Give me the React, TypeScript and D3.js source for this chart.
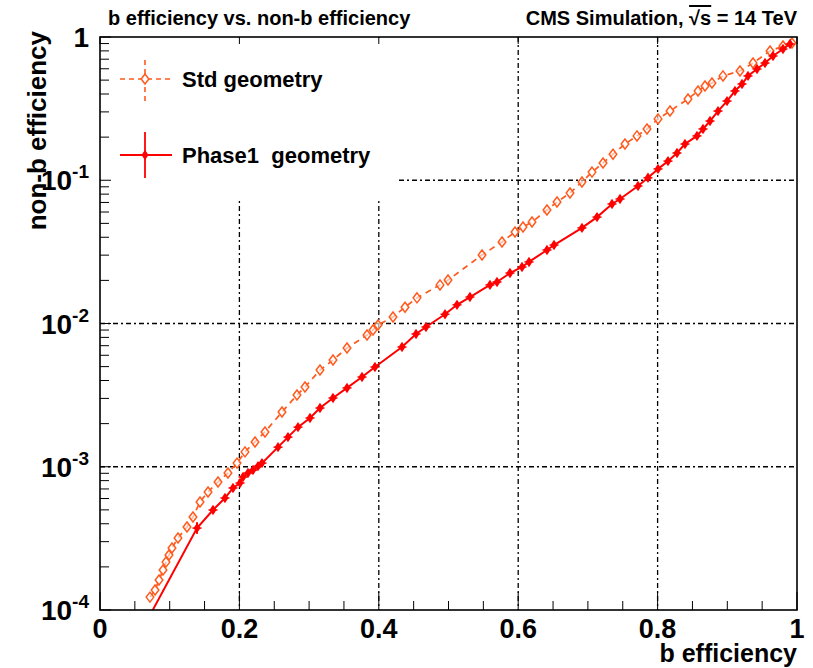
import React from 'react';
import * as d3 from 'd3';

// Std geometry (orange, dashed, open markers)
const stdX = [0.0717, 0.079, 0.0847, 0.0904, 0.0947, 0.099, 0.1033, 0.1119, 0.1248, 0.1334, 0.1435, 0.155, 0.1693, 0.1836, 0.1966, 0.208, 0.2224, 0.2367, 0.2611, 0.2826, 0.2941, 0.3156, 0.3343, 0.3544, 0.3831, 0.3917, 0.3989, 0.4204, 0.4376, 0.4548, 0.4878, 0.4993, 0.5481, 0.5768, 0.5954, 0.6069, 0.6198, 0.6413, 0.6557, 0.6743, 0.6915, 0.7059, 0.7217, 0.736, 0.7532, 0.7704, 0.7848, 0.8006, 0.8178, 0.8436, 0.858, 0.868, 0.878, 0.8938, 0.9182, 0.9369, 0.9613, 0.9799, 0.9928];
const stdY = [1.23e-4, 1.38e-4, 1.62e-4, 1.9e-4, 2.16e-4, 2.42e-4, 2.71e-4, 3.18e-4, 3.8e-4, 4.46e-4, 5.68e-4, 6.67e-4, 7.83e-4, 9.04e-4, 1.06e-3, 1.27e-3, 1.49e-3, 1.75e-3, 2.41e-3, 3.17e-3, 3.6e-3, 4.73e-3, 5.56e-3, 6.74e-3, 8.31e-3, 9.01e-3, 9.77e-3, 1.11e-2, 1.3e-2, 1.51e-2, 1.86e-2, 2.01e-2, 3.01e-2, 3.71e-2, 4.35e-2, 4.72e-2, 5.11e-2, 6.2e-2, 7.05e-2, 8.15e-2, 9.73e-2, 0.114, 0.132, 0.152, 0.179, 0.204, 0.228, 0.268, 0.304, 0.369, 0.42, 0.455, 0.478, 0.535, 0.579, 0.658, 0.798, 0.865, 0.908];

// Phase1 geometry (red, solid, filled markers); first point lies below the frame
const p1X = [0.0717, 0.1392, 0.1621, 0.1793, 0.1908, 0.2009, 0.2052, 0.2123, 0.2195, 0.2267, 0.2324, 0.2554, 0.2697, 0.2841, 0.3013, 0.3156, 0.3343, 0.3544, 0.3759, 0.3945, 0.4333, 0.4534, 0.4677, 0.495, 0.5122, 0.5308, 0.5595, 0.5696, 0.5882, 0.6055, 0.6155, 0.6413, 0.6514, 0.6915, 0.7131, 0.7346, 0.7461, 0.7719, 0.7862, 0.8006, 0.8149, 0.8278, 0.8393, 0.8565, 0.8651, 0.8752, 0.8867, 0.8996, 0.911, 0.9211, 0.9297, 0.9426, 0.9541, 0.9656, 0.9799, 0.99];
const p1Y = [9.2e-5, 3.73e-4, 4.99e-4, 6.05e-4, 7.11e-4, 7.7e-4, 8.48e-4, 9.04e-4, 9.49e-4, 1.01e-3, 1.06e-3, 1.37e-3, 1.61e-3, 1.89e-3, 2.19e-3, 2.57e-3, 3.02e-3, 3.55e-3, 4.23e-3, 4.97e-3, 6.85e-3, 8.45e-3, 9.46e-3, 1.16e-2, 1.35e-2, 1.53e-2, 1.86e-2, 1.95e-2, 2.25e-2, 2.48e-2, 2.69e-2, 3.26e-2, 3.53e-2, 4.65e-2, 5.53e-2, 6.83e-2, 7.4e-2, 9.12e-2, 0.104, 0.12, 0.136, 0.155, 0.179, 0.204, 0.228, 0.259, 0.304, 0.357, 0.42, 0.47, 0.535, 0.598, 0.658, 0.737, 0.824, 0.894];
// visible error bar on Phase1
const p1ErrX = [0.1392];
const p1ErrLo = [3.4e-4];
const p1ErrHi = [4.1e-4];

const xTicks = [0, 0.2, 0.4, 0.6, 0.8, 1];
const xTickLabels = ['0', '0.2', '0.4', '0.6', '0.8', '1'];
const yTicks = [1, 0.1, 0.01, 0.001, 0.0001];
const yTickBase = ['1', '10', '10', '10', '10'];
const yTickExp = ['', '-1', '-2', '-3', '-4'];
const xGrid = [0.2, 0.4, 0.6, 0.8];
const yGrid = [0.1, 0.01, 0.001];

const titleLeft = 'b efficiency vs. non-b efficiency';
const titleRight = 'CMS Simulation, ';
const xLabel = 'b efficiency';
const yLabel = 'non-b efficiency';
const legendStd = 'Std geometry';
const legendP1 = 'Phase1\u00a0\u00a0geometry';

const W = 813, H = 668;
const L = 100, R = 797, T = 37, B = 610;
const ORANGE = '#ff5a1e';
const RED = '#ff0000';
const FONT = '"Liberation Sans", Arial, Helvetica, sans-serif';

export default function App() {
  const x = d3.scaleLinear().domain([0, 1]).range([L, R]);
  const y = d3.scaleLog().domain([1e-4, 1]).range([B, T]);
  const line = d3.line<[number, number]>().x(d => x(d[0])).y(d => y(d[1]));
  const stdPts: [number, number][] = stdX.map((v, i) => [v, stdY[i]]);
  const p1Pts: [number, number][] = p1X.map((v, i) => [v, p1Y[i]]);

  const minorX = d3.range(0, 1.0001, 0.05).filter(v => Math.abs(v / 0.2 - Math.round(v / 0.2)) > 1e-6);
  const minorY: number[] = [];
  for (let e = -4; e < 0; e++) for (let m = 2; m <= 9; m++) minorY.push(m * Math.pow(10, e));

  const legX0 = 120, legX1 = 172, legMx = 145;
  const legStdY = 79, legP1Y = 155;

  const diamond = (cx: number, cy: number, w: number, h: number) =>
    `M${cx},${cy - h} L${cx + w},${cy} L${cx},${cy + h} L${cx - w},${cy} Z`;

  return (
    <svg width={W} height={H} style={{ position: 'absolute', left: 0, top: 0, background: '#fff' }} fontFamily={FONT}>
      <defs>
        <clipPath id="plotclip"><rect x={L} y={T} width={R - L} height={B - T} /></clipPath>
      </defs>
      <rect x={0} y={0} width={W} height={H} fill="#fff" />
      {/* grid */}
      <g stroke="#000" strokeWidth={1.3} strokeDasharray="5,3,2,3">
        {xGrid.map(v => <line key={'gx' + v} x1={x(v)} x2={x(v)} y1={T} y2={B} />)}
        {yGrid.map(v => <line key={'gy' + v} x1={L} x2={R} y1={y(v)} y2={y(v)} />)}
      </g>
      {/* legend box (covers grid) */}
      <rect x={L + 1} y={T + 1} width={297} height={160} fill="#fff" />
      {/* axis ticks */}
      <g stroke="#000" strokeWidth={1}>
        {xTicks.map(v => <line key={'xt' + v} x1={x(v)} x2={x(v)} y1={B} y2={B - 18} />)}
        {minorX.map(v => <line key={'xm' + v} x1={x(v)} x2={x(v)} y1={B} y2={B - 9} />)}
        {xTicks.map(v => <line key={'xtt' + v} x1={x(v)} x2={x(v)} y1={T} y2={T + 7} />)}
        {yTicks.map(v => <line key={'yt' + v} x1={L} x2={L + 11} y1={y(v)} y2={y(v)} />)}
        {minorY.map(v => <line key={'ym' + v} x1={L} x2={L + 9} y1={y(v)} y2={y(v)} />)}
      </g>
      {/* curves */}
      <g clipPath="url(#plotclip)">
        <path d={line(stdPts) || ''} fill="none" stroke={ORANGE} strokeWidth={1.7} strokeDasharray="6,5" />
        {stdPts.map((p, i) => (
          <path key={'sm' + i} d={diamond(x(p[0]), y(p[1]), 3.8, 5)} fill="#fff" fillOpacity={0.6} stroke={ORANGE} strokeWidth={1.5} />
        ))}
        <path d={line(p1Pts) || ''} fill="none" stroke={RED} strokeWidth={2} />
        {p1ErrX.map((v, i) => (
          <line key={'pe' + i} x1={x(v)} x2={x(v)} y1={y(p1ErrLo[i])} y2={y(p1ErrHi[i])} stroke={RED} strokeWidth={2} />
        ))}
        {p1Pts.slice(1).map((p, i) => (
          <g key={'pm' + i}>
            <line x1={x(p[0]) - 4.5} x2={x(p[0]) + 4.5} y1={y(p[1])} y2={y(p[1])} stroke={RED} strokeWidth={1.5} />
            <path d={diamond(x(p[0]), y(p[1]), 3.5, 5.2)} fill={RED} stroke="none" />
          </g>
        ))}
      </g>
      {/* frame */}
      <rect x={L} y={T} width={R - L} height={B - T} fill="none" stroke="#000" strokeWidth={1.6} />
      {/* legend */}
      <g>
        <line x1={legX0} x2={legX1} y1={legStdY} y2={legStdY} stroke={ORANGE} strokeWidth={1.6} strokeDasharray="5,4" />
        <line x1={legMx} x2={legMx} y1={legStdY - 19} y2={legStdY + 24} stroke={ORANGE} strokeWidth={1.6} strokeDasharray="5,4" />
        <path d={diamond(legMx, legStdY, 3.8, 5)} fill="#fff" stroke={ORANGE} strokeWidth={1.5} />
        <text x={182} y={legStdY + 8} fontSize={22} fontWeight="bold" fill="#000">{legendStd}</text>
        <line x1={legX0} x2={legX1} y1={legP1Y} y2={legP1Y} stroke={RED} strokeWidth={1.8} />
        <line x1={legMx} x2={legMx} y1={legP1Y - 23} y2={legP1Y + 23} stroke={RED} strokeWidth={1.8} />
        <path d={diamond(legMx, legP1Y, 3.5, 5.2)} fill={RED} />
        <text x={182} y={legP1Y + 8} fontSize={22} fontWeight="bold" fill="#000">{legendP1}</text>
      </g>
      {/* tick labels */}
      {xTicks.map((v, i) => (
        <text key={'xl' + v} x={x(v)} y={638} textAnchor="middle" fontSize={27} fontWeight="bold">{xTickLabels[i]}</text>
      ))}
      {yTicks.map((v, i) => (
        <text key={'yl' + v} x={89} y={y(v) + 10} textAnchor="end" fontSize={28} fontWeight="bold">
          {yTickBase[i]}
          {yTickExp[i] && <tspan fontSize={19} dy={-12}>{yTickExp[i]}</tspan>}
        </text>
      ))}
      {/* axis titles */}
      <text x={797} y={662} textAnchor="end" fontSize={25} fontWeight="bold">{xLabel}</text>
      <text transform={`translate(46,31) rotate(-90)`} textAnchor="end" fontSize={26} fontWeight="bold">{yLabel}</text>
      {/* titles */}
      <text x={108} y={25} fontSize={20} fontWeight="bold">{titleLeft}</text>
      <text x={797} y={25} textAnchor="end" fontSize={20} fontWeight="bold">
        {titleRight}
        <tspan style={{ textDecoration: 'overline' }}>{'\u221As'}</tspan>
        {' = 14 TeV'}
      </text>
    </svg>
  );
}
